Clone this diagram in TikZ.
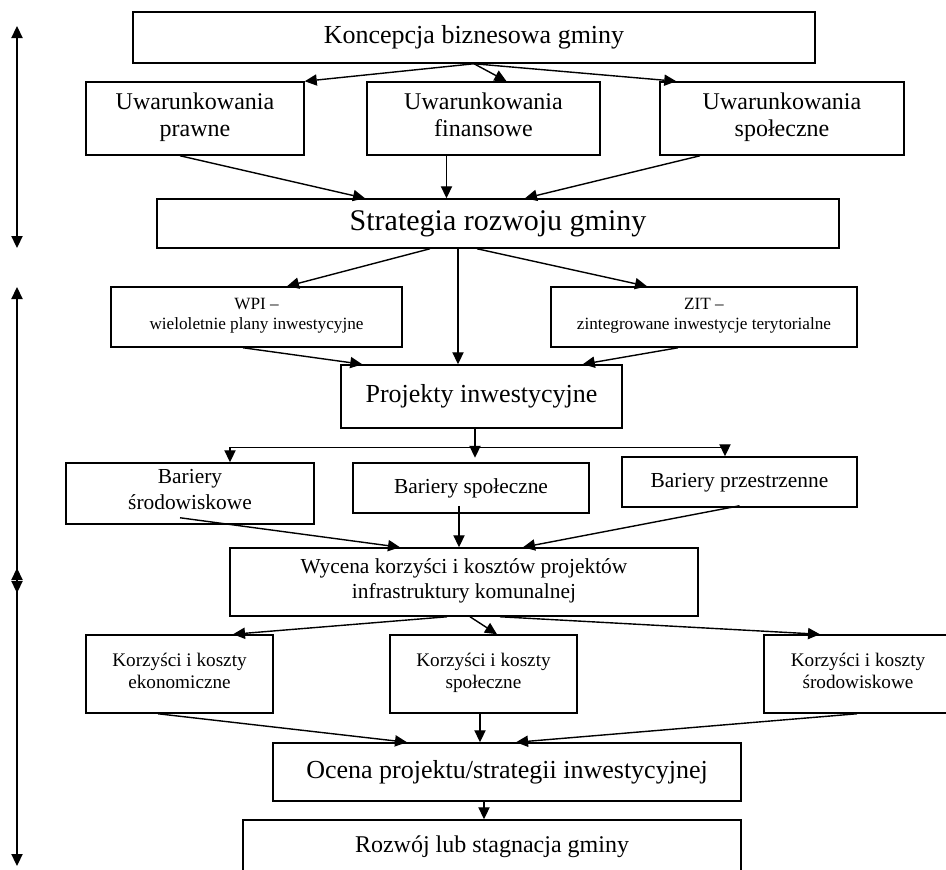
\documentclass[tikz,border=0pt]{standalone}
\usepackage{fontspec}
\setmainfont{Liberation Serif}
\usetikzlibrary{arrows.meta,calc}

\begin{document}
\begin{tikzpicture}[x=0.5pt,y=-0.5pt,
          box/.style={draw,line width=0.75pt,align=center,inner sep=0pt,
                      execute at end node=\strut},
          big/.style={box,font=\fontsize{13}{15}\selectfont},
          huge/.style={box,font=\fontsize{15}{17}\selectfont},
          cond/.style={box,font=\fontsize{12}{13.5}\selectfont,
                       minimum height=36.5pt},
          plan/.style={box,font=\fontsize{8.6}{10}\selectfont,
                       minimum height=30pt},
          barrier/.style={box,font=\fontsize{10.7}{13}\selectfont},
          gain/.style={box,font=\fontsize{9.6}{11}\selectfont,
                       minimum width=93.5pt,minimum height=39pt},
          arr/.style={-{Triangle[length=6pt,width=5.6pt]},line width=0.7pt},
          span/.style={{Triangle[length=6pt,width=5.6pt]}-{Triangle[length=6pt,width=5.6pt]},
                       line width=0.7pt}]
        \useasboundingbox (0,0) rectangle (946,869);
        % boxes
        \node[big,minimum width=341pt,minimum height=25.5pt] (konc) at (474,37.5)
          {Koncepcja biznesowa gminy};
        \node[cond,minimum width=109pt] (uprawne) at (195,118.5) {Uwarunkowania\\prawne};
        \node[cond,minimum width=116.5pt] (ufin) at (483.5,118.5) {Uwarunkowania\\finansowe};
        \node[cond,minimum width=122pt] (uspol) at (782,118.5) {Uwarunkowania\\społeczne};
        \node[huge,minimum width=341pt,minimum height=24.5pt] (strat) at (498,223.5)
          {Strategia rozwoju gminy};
        \node[plan,minimum width=145.5pt] (wpi) at (256.5,317)
          {WPI –\\wieloletnie plany inwestycyjne};
        \node[plan,minimum width=153pt] (zit) at (704,317)
          {ZIT –\\zintegrowane inwestycje terytorialne};
        \node[big,minimum width=140.5pt,minimum height=31.5pt] (proj) at (481.5,396.5)
          {Projekty inwestycyjne};
        \node[barrier,minimum width=124pt,minimum height=30.5pt] (bsrod) at (190,493.5)
          {Bariery\\środowiskowe};
        \node[barrier,minimum width=118pt,minimum height=25pt] (bspol) at (471,488)
          {Bariery społeczne};
        \node[barrier,minimum width=117.5pt,minimum height=25pt] (bprz) at (739.5,482)
          {Bariery przestrzenne};
        \node[barrier,font=\fontsize{10.7}{12.5}\selectfont,
              minimum width=234pt,minimum height=34pt] (wyc) at (464,582)
          {Wycena korzyści i kosztów projektów\\infrastruktury komunalnej};
        \node[gain] (kek) at (179.5,674) {Korzyści i koszty\\ekonomiczne};
        \node[gain] (ksp) at (483.5,674) {Korzyści i koszty\\społeczne};
        \node[gain,minimum width=94pt] (ksr) at (858,674) {Korzyści i koszty\\środowiskowe};
        \node[big,minimum width=234pt,minimum height=29pt] (ocena) at (507,772)
          {Ocena projektu/strategii inwestycyjnej};
        \node[box,font=\fontsize{12}{14}\selectfont,
              minimum width=249pt,minimum height=27pt] (rozw) at (492,847)
          {Rozwój lub stagnacja gminy};
        % side spans
        \coordinate (s1t) at (17,26);  \coordinate (s1b) at (17,248);
        \coordinate (s2t) at (17,287); \coordinate (s2b) at (17,593);
        \coordinate (s3t) at (17,568); \coordinate (s3b) at (17,866);
        \draw[span] (s1t) -- (s1b);
        \draw[span] (s2t) -- (s2b);
        \draw[span] (s3t) -- (s3b);
        % first level
        \draw[arr] (konc.south) -- (uprawne.north east);
        \draw[arr] (konc.south) -- ($(ufin.north)+(23,0)$);
        \draw[arr] (konc.south) -- ($(uspol.north west)+(17,0)$);
        \draw[arr] ($(uprawne.south)+(-15,0)$) -- ($(strat.north)+(-133,0)$);
        \draw[arr] ($(ufin.south)+(-37,0)$) coordinate (f) -- (f |- strat.north);
        \draw[arr] ($(uspol.south)+(-82,0)$) -- ($(strat.north)+(27,0)$);
        % plans
        \draw[arr] ($(strat.south)+(-68,0)$) -- ($(wpi.north)+(30.5,0)$);
        \draw[arr] ($(strat.south)+(-40,0)$) coordinate (p) -- (p |- proj.north);
        \draw[arr] ($(strat.south)+(-21,0)$) -- ($(zit.north)+(-57,0)$);
        \draw[arr] ($(wpi.south)+(-13.5,0)$) -- ($(proj.north west)+(22,0)$);
        \draw[arr] ($(zit.south)+(-26,0)$) -- ($(proj.north east)+(-40,0)$);
        % barriers
        \coordinate (fork) at ($(proj.south)+(-6.5,19)$);
        \draw[arr] ($(proj.south)+(-6.5,0)$) -- ($(fork)+(0,10)$);
        \draw[arr] (fork) -| ($(bsrod.north)+(40,0)$);
        \draw[arr] (fork) -| ($(bprz.north)+(-14.5,0)$);
        \draw[arr] ($(bsrod.south)+(-10,-7)$) -- ($(wyc.north)+(-64,0)$);
        \draw[arr] ($(bspol.south)+(-12,-8)$) coordinate (b) -- (b |- wyc.north);
        \draw[arr] ($(bprz.south)+(0,-2)$) -- ($(wyc.north)+(59,0)$);
        % gains and costs
        \draw[arr] ($(wyc.south)+(-17,0)$) -- ($(kek.north)+(53.5,0)$);
        \draw[arr] ($(wyc.south)+(6,0)$) -- ($(ksp.north)+(13.5,0)$);
        \draw[arr] ($(wyc.south)+(36,0)$) -- ($(ksr.north)+(-38,0)$);
        \draw[arr] ($(kek.south)+(-21.5,0)$) -- ($(ocena.north)+(-100,0)$);
        \draw[arr] ($(ksp.south)+(-3.5,0)$) coordinate (k) -- (k |- ocena.north);
        \draw[arr] ($(ksr.south)+(-1,0)$) -- ($(ocena.north)+(9,0)$);
        \draw[arr] ($(ocena.south)+(-23,0)$) coordinate (o) -- (o |- rozw.north);
      \end{tikzpicture}
\end{document}
